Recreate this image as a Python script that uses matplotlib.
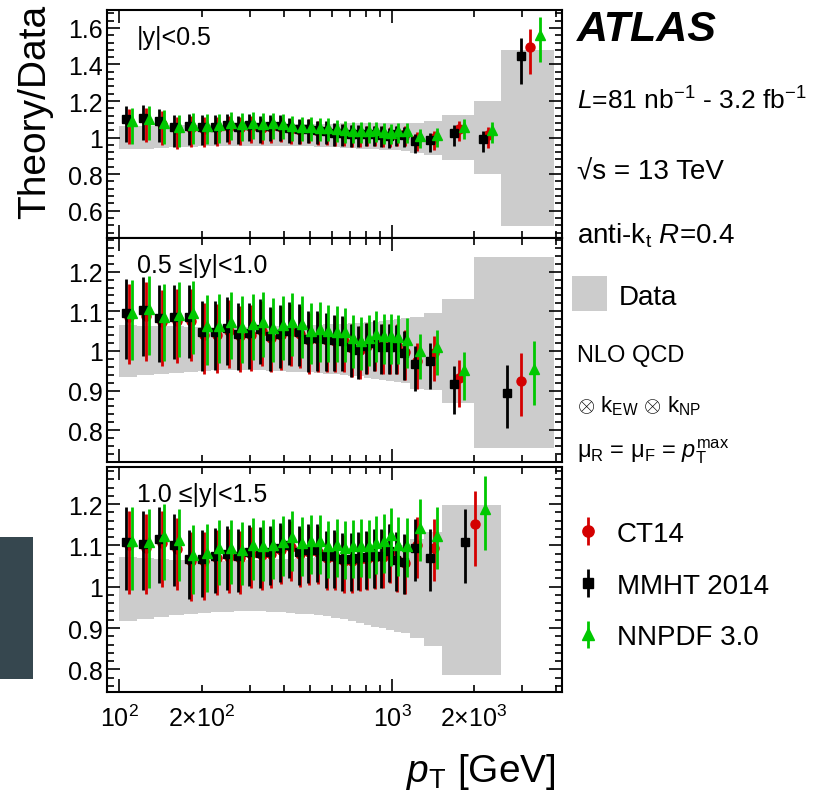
import numpy as np
import matplotlib
matplotlib.use("Agg")
import matplotlib.pyplot as plt
from matplotlib.ticker import FixedLocator, MultipleLocator, FuncFormatter
from matplotlib.patches import Rectangle

plt.rcParams['font.family'] = ['Liberation Sans', 'DejaVu Sans']
plt.rcParams['mathtext.fontset'] = 'custom'
plt.rcParams['mathtext.rm'] = 'Liberation Sans'
plt.rcParams['mathtext.it'] = 'Liberation Sans:italic'
plt.rcParams['mathtext.bf'] = 'Liberation Sans:bold'

# pT bin edges [GeV] per rapidity slice
edges_y0 = [100, 116, 134, 152, 172, 194, 216, 240, 264, 290, 318, 346, 376, 408, 442, 478, 516,
            556, 598, 642, 688, 736, 786, 838, 894, 952, 1012, 1076, 1162, 1310, 1530, 1992, 2500, 3937]
edges_y1 = [100, 116, 134, 152, 172, 194, 216, 240, 264, 290, 318, 346, 376, 408, 442, 478, 516,
            556, 598, 642, 688, 736, 786, 838, 894, 952, 1012, 1076, 1162, 1310, 1530, 1992, 3937]
edges_y2 = [100, 116, 134, 152, 172, 194, 216, 240, 264, 290, 318, 346, 376, 408, 442, 478, 516,
            556, 598, 642, 688, 736, 786, 838, 894, 952, 1012, 1076, 1162, 1310, 1530, 2500]

# |y|<0.5
ct14_y0 = [1.088, 1.094, 1.076, 1.048, 1.052, 1.048, 1.050, 1.058, 1.050, 1.060, 1.050, 1.057, 1.057,
           1.045, 1.041, 1.045, 1.036, 1.034, 1.025, 1.022, 1.017, 1.017, 1.018, 1.018, 1.016, 1.011,
           1.020, 1.018, 0.990, 0.995, 1.049, 1.013, 1.497]
mmht_y0 = [1.100, 1.106, 1.088, 1.060, 1.064, 1.058, 1.060, 1.068, 1.058, 1.068, 1.058, 1.064, 1.064,
           1.051, 1.046, 1.049, 1.040, 1.037, 1.027, 1.024, 1.018, 1.018, 1.018, 1.018, 1.015, 1.009,
           1.018, 1.015, 0.982, 0.985, 1.024, 0.991, 1.444]
nnpdf_y0 = [1.091, 1.104, 1.082, 1.060, 1.068, 1.064, 1.068, 1.079, 1.073, 1.082, 1.073, 1.079, 1.073,
            1.064, 1.058, 1.060, 1.055, 1.055, 1.046, 1.042, 1.037, 1.037, 1.037, 1.040, 1.033, 1.027,
            1.037, 1.037, 1.009, 1.013, 1.060, 1.040, 1.561]
up_y0 = [0.070, 0.070, 0.068, 0.066, 0.065, 0.064, 0.063, 0.062, 0.061, 0.060, 0.059, 0.058, 0.057,
         0.056, 0.055, 0.054, 0.053, 0.052, 0.051, 0.050, 0.049, 0.048, 0.047, 0.046, 0.046, 0.045,
         0.045, 0.044, 0.040, 0.040, 0.042, 0.045, 0.100]
dn_y0 = [0.125, 0.120, 0.115, 0.110, 0.105, 0.100, 0.097, 0.094, 0.091, 0.089, 0.087, 0.085, 0.083,
         0.081, 0.079, 0.077, 0.075, 0.073, 0.071, 0.070, 0.069, 0.068, 0.067, 0.066, 0.066, 0.065,
         0.065, 0.065, 0.065, 0.065, 0.068, 0.070, 0.150]
data_hi_y0 = [1.064, 1.064, 1.065, 1.066, 1.067, 1.068, 1.069, 1.070, 1.071, 1.072, 1.072, 1.073, 1.073,
              1.074, 1.074, 1.075, 1.075, 1.076, 1.076, 1.077, 1.077, 1.078, 1.078, 1.079, 1.079, 1.080,
              1.080, 1.081, 1.080, 1.091, 1.122, 1.201, 1.479]
data_lo_y0 = [0.936, 0.940, 0.944, 0.947, 0.950, 0.952, 0.954, 0.955, 0.956, 0.956, 0.956, 0.955, 0.954,
              0.953, 0.952, 0.951, 0.950, 0.948, 0.946, 0.944, 0.942, 0.940, 0.938, 0.936, 0.934, 0.932,
              0.930, 0.927, 0.914, 0.907, 0.878, 0.803, 0.516]

# 0.5<=|y|<1.0
ct14_y1 = [1.085, 1.089, 1.072, 1.075, 1.076, 1.040, 1.040, 1.050, 1.037, 1.040, 1.050, 1.034, 1.040,
           1.047, 1.043, 1.027, 1.029, 1.028, 1.025, 1.024, 1.008, 1.003, 1.013, 1.020, 1.012, 1.012,
           1.012, 0.998, 0.975, 0.994, 0.933, 0.925]
mmht_y1 = [1.097, 1.103, 1.083, 1.085, 1.085, 1.047, 1.047, 1.057, 1.043, 1.045, 1.055, 1.038, 1.044,
           1.051, 1.047, 1.030, 1.032, 1.030, 1.027, 1.026, 1.009, 1.003, 1.013, 1.020, 1.011, 1.011,
           1.011, 0.996, 0.968, 0.975, 0.916, 0.895]
nnpdf_y1 = [1.095, 1.106, 1.086, 1.091, 1.095, 1.062, 1.064, 1.072, 1.061, 1.068, 1.074, 1.059, 1.065,
            1.074, 1.068, 1.051, 1.055, 1.051, 1.049, 1.047, 1.032, 1.026, 1.034, 1.043, 1.037, 1.038,
            1.036, 1.027, 0.999, 1.009, 0.952, 0.954]
up_y1 = [0.085, 0.084, 0.083, 0.082, 0.081, 0.080, 0.079, 0.078, 0.077, 0.076, 0.075, 0.074, 0.073,
         0.072, 0.071, 0.070, 0.068, 0.066, 0.064, 0.062, 0.060, 0.059, 0.058, 0.057, 0.057, 0.056,
         0.055, 0.055, 0.045, 0.045, 0.045, 0.070]
dn_y1 = [0.118, 0.115, 0.110, 0.106, 0.102, 0.098, 0.095, 0.093, 0.091, 0.090, 0.089, 0.088, 0.087,
         0.086, 0.085, 0.084, 0.082, 0.080, 0.078, 0.076, 0.074, 0.073, 0.072, 0.071, 0.070, 0.070,
         0.070, 0.070, 0.070, 0.070, 0.075, 0.090]
data_hi_y1 = [1.065, 1.064, 1.063, 1.062, 1.061, 1.060, 1.059, 1.059, 1.059, 1.060, 1.060, 1.061, 1.062,
              1.063, 1.064, 1.065, 1.066, 1.067, 1.068, 1.069, 1.070, 1.071, 1.073, 1.074, 1.076, 1.078,
              1.080, 1.082, 1.086, 1.095, 1.131, 1.236]
data_lo_y1 = [0.935, 0.939, 0.942, 0.945, 0.947, 0.949, 0.951, 0.952, 0.952, 0.952, 0.951, 0.950, 0.949,
              0.948, 0.947, 0.946, 0.944, 0.943, 0.942, 0.940, 0.938, 0.936, 0.933, 0.930, 0.927, 0.925,
              0.922, 0.920, 0.904, 0.901, 0.870, 0.756]

# 1.0<=|y|<1.5
ct14_y2 = [1.100, 1.095, 1.105, 1.092, 1.062, 1.062, 1.070, 1.073, 1.069, 1.080, 1.076, 1.080, 1.088,
           1.097, 1.080, 1.085, 1.085, 1.070, 1.071, 1.063, 1.063, 1.066, 1.068, 1.071, 1.072, 1.085,
           1.064, 1.058, 1.100, 1.093, 1.151]
mmht_y2 = [1.109, 1.103, 1.115, 1.101, 1.067, 1.067, 1.075, 1.079, 1.074, 1.085, 1.081, 1.085, 1.093,
           1.102, 1.085, 1.090, 1.090, 1.074, 1.075, 1.067, 1.067, 1.069, 1.071, 1.074, 1.074, 1.087,
           1.065, 1.059, 1.095, 1.069, 1.109]
nnpdf_y2 = [1.111, 1.109, 1.123, 1.113, 1.078, 1.081, 1.093, 1.095, 1.090, 1.101, 1.098, 1.101, 1.109,
            1.121, 1.107, 1.111, 1.111, 1.098, 1.101, 1.095, 1.098, 1.099, 1.098, 1.107, 1.110, 1.125,
            1.101, 1.099, 1.143, 1.122, 1.189]
up_y2 = [0.083, 0.080, 0.078, 0.075, 0.071, 0.070, 0.068, 0.067, 0.066, 0.065, 0.064, 0.063, 0.062,
         0.062, 0.062, 0.062, 0.062, 0.062, 0.062, 0.063, 0.063, 0.064, 0.064, 0.065, 0.065, 0.066,
         0.067, 0.068, 0.070, 0.070, 0.080]
dn_y2 = [0.118, 0.112, 0.106, 0.100, 0.096, 0.093, 0.090, 0.088, 0.086, 0.084, 0.083, 0.082, 0.082,
         0.082, 0.081, 0.080, 0.079, 0.078, 0.078, 0.077, 0.077, 0.076, 0.076, 0.076, 0.076, 0.076,
         0.076, 0.076, 0.080, 0.080, 0.100]
data_hi_y2 = [1.071, 1.069, 1.067, 1.065, 1.064, 1.063, 1.063, 1.063, 1.063, 1.064, 1.065, 1.066, 1.067,
              1.068, 1.069, 1.070, 1.071, 1.072, 1.074, 1.076, 1.078, 1.080, 1.082, 1.085, 1.088, 1.091,
              1.095, 1.100, 1.115, 1.133, 1.197]
data_lo_y2 = [0.917, 0.922, 0.927, 0.931, 0.934, 0.936, 0.938, 0.939, 0.940, 0.940, 0.940, 0.939, 0.938,
              0.937, 0.935, 0.933, 0.931, 0.928, 0.925, 0.921, 0.917, 0.912, 0.907, 0.903, 0.899, 0.895,
              0.891, 0.887, 0.875, 0.857, 0.787]

slice_labels = ['|y|<0.5', '0.5 \u2264|y|<1.0', '1.0 \u2264|y|<1.5']
pdf_labels = ['CT14', 'MMHT 2014', 'NNPDF 3.0']

panels = [
    dict(edges=edges_y0, ct=ct14_y0, mm=mmht_y0, nn=nnpdf_y0, up=up_y0, dn=dn_y0,
         hi=data_hi_y0, lo=data_lo_y0, ylim=(0.45, 1.70), major=0.2, minor=0.04),
    dict(edges=edges_y1, ct=ct14_y1, mm=mmht_y1, nn=nnpdf_y1, up=up_y1, dn=dn_y1,
         hi=data_hi_y1, lo=data_lo_y1, ylim=(0.72, 1.285), major=0.1, minor=0.02),
    dict(edges=edges_y2, ct=ct14_y2, mm=mmht_y2, nn=nnpdf_y2, up=up_y2, dn=dn_y2,
         hi=data_hi_y2, lo=data_lo_y2, ylim=(0.745, 1.29), major=0.1, minor=0.02),
]

RED = '#d40000'
GREEN = '#00c800'
GREY = '#cccccc'

W, H = 813, 803
fig = plt.figure(figsize=(W / 100, H / 100), dpi=100)

# axes frames in pixels: (top, bottom)
frames = [(10.7, 239), (239, 463), (468, 693)]
x0, x1 = 107, 562


def xfmt(v, pos):
    if v == 100:
        return '$10^{2}$'
    if v == 1000:
        return '$10^{3}$'
    if v == 200:
        return '2\u00d710$^{2}$'
    if v == 2000:
        return '2\u00d710$^{3}$'
    return ''


handles = None
for i, p in enumerate(panels):
    top, bot = frames[i]
    ax = fig.add_axes([x0 / W, 1 - bot / H, (x1 - x0) / W, (bot - top) / H])
    ax.set_xscale('log')

    edges = np.array(p['edges'], dtype=float)
    lo_e, hi_e = edges[:-1], edges[1:]
    c = 0.5 * (lo_e + hi_e)
    lw = np.log10(hi_e) - np.log10(lo_e)

    ax.stairs(p['hi'], edges, baseline=p['lo'], fill=True, color=GREY, lw=0, zorder=1)

    yerr = [p['dn'], p['up']]
    h_ct = ax.errorbar(c, p['ct'], yerr=yerr, fmt='o', color=RED, ms=6.5,
                       elinewidth=2.0, capsize=0, zorder=3)
    h_mm = ax.errorbar(c * 10 ** (-0.17 * lw), p['mm'], yerr=yerr, fmt='s', color='black',
                       ms=6, elinewidth=2.0, capsize=0, zorder=4)
    h_nn = ax.errorbar(c * 10 ** (0.17 * lw), p['nn'], yerr=yerr, fmt='^', color=GREEN,
                       ms=7, elinewidth=2.0, capsize=0, zorder=5)
    if handles is None:
        handles = [h_ct, h_mm, h_nn]

    ax.set_xlim(90, 4200)
    ax.set_ylim(*p['ylim'])
    ax.xaxis.set_major_locator(FixedLocator([100, 1000]))
    ax.xaxis.set_minor_locator(FixedLocator([200, 300, 400, 500, 600, 700, 800, 900,
                                             2000, 3000, 4000]))
    ax.xaxis.set_major_formatter(FuncFormatter(xfmt))
    ax.xaxis.set_minor_formatter(FuncFormatter(xfmt))
    ax.yaxis.set_major_locator(MultipleLocator(p['major']))
    ax.yaxis.set_minor_locator(MultipleLocator(p['minor']))
    ax.yaxis.set_major_formatter(FuncFormatter(lambda v, pos: '%g' % round(v, 2)))

    ax.tick_params(which='both', direction='in', top=True, right=True, width=1.2,
                   labelsize=18, colors='black')
    ax.tick_params(which='major', length=9.5)
    ax.tick_params(which='minor', length=4.8)
    ax.tick_params(axis='y', which='both', pad=3)
    ax.tick_params(axis='x', which='both', pad=9, labelbottom=(i == 2))
    for s in ax.spines.values():
        s.set_linewidth(1.5)

    ax.text(0.065, 0.85, slice_labels[i], transform=ax.transAxes, fontsize=18,
            va='baseline', ha='left')

# axis titles
fig.text(35 / W, 1 - 5 / H, 'Theory/Data', rotation=90, ha='center', va='top', fontsize=28)
fig.text(556 / W, 1 - 782 / H, r'$p_{\mathrm{T}}$ [GeV]', ha='right', va='baseline', fontsize=28)

# right-hand annotations
tx = 577 / W
fig.text(tx, 1 - 41 / H, 'ATLAS', fontsize=31, fontweight='bold', fontstyle='italic',
         va='baseline')
fig.text(tx, 1 - 110 / H, r'$L$=81 nb$^{\mathrm{-1}}$ - 3.2 fb$^{\mathrm{-1}}$', fontsize=19,
         va='baseline')
fig.text(tx, 1 - 180 / H, '\u221as = 13 TeV', fontsize=20, va='baseline')
fig.text(tx, 1 - 244 / H, r'anti-k$_{\mathrm{t}}$ $R$=0.4', fontsize=20, va='baseline')
fig.add_artist(Rectangle((571.7 / W, 1 - 311.7 / H), 35 / W, 35 / H,
                         transform=fig.transFigure, color=GREY, lw=0))
fig.text(618.3 / W, 1 - 305 / H, 'Data', fontsize=20, va='baseline')
fig.text(tx, 1 - 362 / H, 'NLO QCD', fontsize=17, va='baseline')
fig.text(tx, 1 - 412 / H, r'$\otimes$ k$_{\mathrm{EW}}$ $\otimes$ k$_{\mathrm{NP}}$',
         fontsize=16, va='baseline')
fig.text(tx, 1 - 458 / H,
         '\u03bc$_{\\mathrm{R}}$ = \u03bc$_{\\mathrm{F}}$ = $p_{\\mathrm{T}}^{\\mathrm{max}}$',
         fontsize=17, va='baseline')

fig.legend(handles, pdf_labels, loc='upper left', bbox_to_anchor=(574 / W, 1 - 522 / H),
           frameon=False, fontsize=20, handlelength=1.0, handletextpad=0.55,
           labelspacing=0.92, borderpad=0, borderaxespad=0, numpoints=1, markerscale=1.25)

# dark block at the left edge
fig.add_artist(Rectangle((0, 1 - 680 / H), 33 / W, 142 / H, transform=fig.transFigure,
                         color='#36474f', lw=0))

fig.savefig('out.png', dpi=100)
